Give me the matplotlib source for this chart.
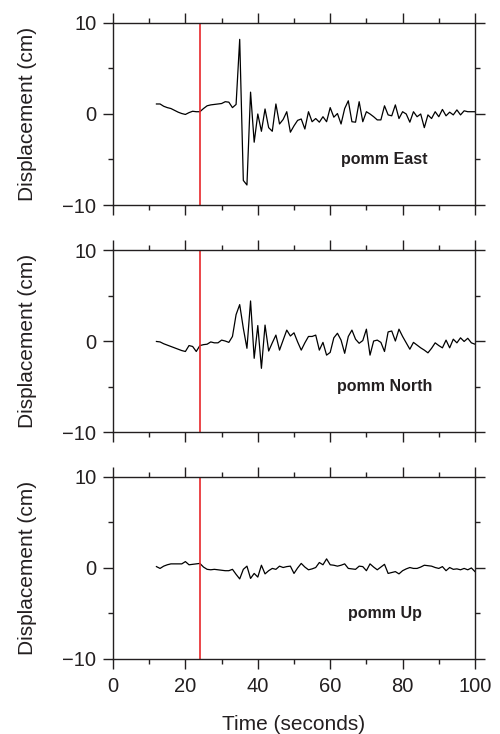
import numpy as np
import matplotlib
matplotlib.use("Agg")
import matplotlib.pyplot as plt
from matplotlib.ticker import MultipleLocator

plt.rcParams["font.family"] = ["Liberation Sans", "DejaVu Sans"]

time_s = list(range(12, 101))

east = [1.1, 1.1, 0.85, 0.7, 0.6, 0.4, 0.2, 0.05, -0.05, 0.15,
        0.3, 0.25, 0.25, 0.6, 0.9, 1.0, 1.05, 1.1, 1.15, 1.35,
        1.3, 0.7, 1.05, 8.2, -7.3, -7.8, 2.4, -3.1, 0.0, -1.9,
        0.55, -1.5, -1.9, 1.1, -1.1, -0.6, 0.25, -2.0, -1.3, -0.7,
        -0.55, -1.65, 0.25, -0.85, -0.5, -0.9, -0.3, -0.85, 0.7, -0.35,
        0.05, -1.1, 0.6, 1.45, -0.85, -0.9, 1.35, -0.85, 0.25, 0.0,
        -0.3, -0.65, -0.65, 0.9, -0.1, -0.2, 1.0, -0.5, 0.25, 0.0,
        -0.9, 0.25, -0.3, 0.0, -1.5, -0.1, -0.5, 0.25, -0.3, 0.5,
        -0.2, 0.2, -0.1, 0.45, -0.1, 0.35, 0.25, 0.25, 0.25]

north = [-0.05, -0.1, -0.3, -0.45, -0.6, -0.75, -0.9, -1.05, -1.15, -0.5,
         -0.6, -1.15, -0.5, -0.4, -0.35, -0.1, -0.2, -0.2, 0.1, 0.0,
         -0.15, 0.5, 2.9, 4.0, 1.4, -0.8, 4.4, -1.9, 1.7, -3.0,
         1.75, -1.1, -0.2, 0.65, -1.0, 0.1, 1.2, 0.55, 0.9, -0.1,
         -1.0, -0.2, 0.5, 0.5, 0.65, -1.0, -0.15, -1.55, -1.25, 0.35,
         0.85, 0.1, -1.35, 0.5, 1.2, 0.2, -0.25, 0.05, 1.3, -1.55,
         0.0, 0.1, -0.15, -1.15, 1.0, 1.1, 0.0, 1.3, 0.5, -0.2,
         -0.9, -0.15, -0.45, -0.75, -1.0, -1.3, -0.8, -0.2, -0.5, -0.75,
         0.1, -0.75, 0.2, -0.2, 0.35, -0.05, 0.3, -0.2, -0.35]

up = [0.15, -0.05, 0.2, 0.35, 0.45, 0.45, 0.45, 0.45, 0.7, 0.35,
      0.4, 0.45, 0.5, 0.1, -0.15, -0.2, -0.15, -0.2, -0.25, -0.3,
      -0.3, -0.15, -0.7, -1.2, -0.15, 0.2, -1.15, -0.6, -1.0, 0.3,
      -0.65, -0.3, -0.05, -0.15, 0.2, 0.05, 0.15, 0.2, -0.6, 0.0,
      0.5, 0.1, -0.2, -0.1, 0.05, 0.6, 0.35, 1.0, 0.35, 0.3,
      0.2, 0.3, 0.45, -0.05, -0.1, -0.15, 0.2, 0.15, -0.3, 0.45,
      0.1, -0.2, 0.1, 0.4, -0.6, -0.5, -0.4, -0.65, -0.3, -0.1,
      0.05, -0.05, -0.05, 0.1, 0.3, 0.25, 0.2, 0.05, -0.05, 0.15,
      -0.3, 0.05, -0.15, -0.1, -0.2, -0.05, -0.2, 0.0, -0.4]

labels = ["pomm East", "pomm North", "pomm Up"]
arrival = 24

fig = plt.figure(figsize=(5, 7.34), dpi=100)
bottoms = [0.7207, 0.4114, 0.1022]
series = [east, north, up]

for i, (b, vals, lab) in enumerate(zip(bottoms, series, labels)):
    ax = fig.add_axes([0.226, b, 0.724, 0.248])
    ax.plot(time_s, vals, color="black", lw=0.9)
    ax.axvline(arrival, color="#e8262a", lw=1.2)
    ax.set_xlim(0, 100)
    ax.set_ylim(-10, 10)
    ax.xaxis.set_major_locator(MultipleLocator(20))
    ax.xaxis.set_minor_locator(MultipleLocator(10))
    ax.yaxis.set_major_locator(MultipleLocator(10))
    ax.yaxis.set_minor_locator(MultipleLocator(5))
    ax.tick_params(which="both", direction="out", top=True, right=True,
                   width=1.0, labelsize=14.5, colors="#231f20")
    ax.tick_params(which="major", length=7)
    ax.tick_params(which="minor", length=3.6)
    ax.tick_params(axis="y", pad=5)
    ax.tick_params(axis="x", pad=6)
    for s in ax.spines.values():
        s.set_linewidth(1.0)
        s.set_color("#231f20")
    ax.set_ylabel("Displacement (cm)", fontsize=15, color="#231f20")
    ax.yaxis.set_label_coords(-0.21, 0.5)
    ax.text(75, -5, lab, ha="center", va="center", fontsize=11.5,
            fontweight="bold", color="#231f20")
    if i < 2:
        ax.tick_params(axis="x", labelbottom=False)
    else:
        ax.set_xlabel("Time (seconds)", fontsize=15, color="#231f20",
                      labelpad=14)

fig.savefig("out.png", dpi=100)
